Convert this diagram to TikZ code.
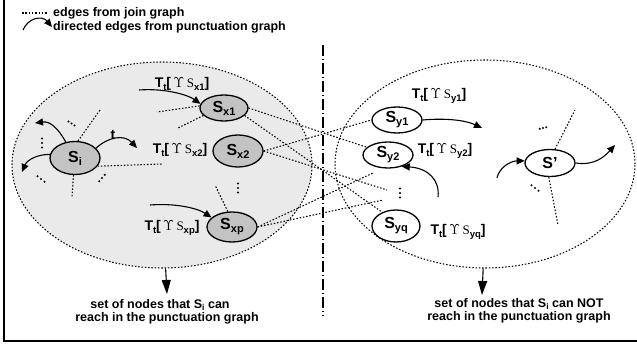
\documentclass[tikz,border=0pt]{standalone}
\usepackage[no-math]{fontspec}
\setmainfont{Liberation Sans}
\newfontfamily\serif{Liberation Serif}
\usetikzlibrary{arrows.meta,shapes.geometric}
\definecolor{nodegrey}{RGB}{195,195,195}
\definecolor{regiongrey}{RGB}{234,234,234}
\newcommand\nsub[1]{\raisebox{-3pt}{\fontsize{11}{11}\selectfont #1}}
\newcommand\tsub[1]{\raisebox{-2.5pt}{\fontsize{9.5}{9.5}\selectfont #1}}
\newcommand\ssub[1]{\raisebox{-2pt}{\fontsize{8.5}{8.5}\selectfont #1}}
\newcommand\Tl[1]{T\tsub{t}[\,$\Upsilon$\,{\serif\mdseries\fontsize{13}{13}\selectfont S}\tsub{#1}]}
% three dots centred at (#1,#2), step (#3,#4)
\newcommand\dotrow[4]{\fill ({#1-#3},{#2-#4}) circle (1.15pt) (#1,#2) circle (1.15pt) ({#1+#3},{#2+#4}) circle (1.15pt);}
\tikzset{
 jedge/.style={line width=1.05pt, dash pattern=on 1.5pt off 1.8pt},
 pedge/.style={line width=1.1pt, -{Triangle[length=8pt,width=7pt]}},
 dnarrow/.style={line width=1.1pt, -{Triangle[length=14pt,width=9pt]}},
 gnode/.style={ellipse, draw, line width=1.3pt, fill=nodegrey, inner sep=0pt, font=\fontsize{16}{16}\selectfont\bfseries},
 wnode/.style={gnode, fill=white},
 region/.style={ellipse, draw, line width=1.05pt, dash pattern=on 1.5pt off 1.8pt, inner sep=0pt},
 lab/.style={font=\fontsize{14}{14}\selectfont\bfseries, inner sep=0pt},
 txt/.style={font=\fontsize{12.5}{12.5}\selectfont\bfseries, inner sep=0pt},
}
\begin{document}
\begin{tikzpicture}[x=1pt,y=-1pt]
\useasboundingbox (0,0) rectangle (637,345);
% frame
\coordinate (f1) at (4,0); \coordinate (f2) at (4,341); \coordinate (f3) at (637,341);
\draw[line width=1.6pt] (f1) -- (f2) -- (f3);
% regions
\node[region, fill=regiongrey, minimum width=300pt, minimum height=206pt] (L) at (162,165) {};
\node[region, minimum width=300pt, minimum height=208pt] (R) at (485,164) {};
% divider
\coordinate (d1) at (323,45); \coordinate (d2) at (323,316);
\draw[line width=1.1pt, dash pattern=on 11pt off 3pt on 1pt off 3pt] (d1) -- (d2);
% legend
\coordinate (lj1) at (22,13); \coordinate (lj2) at (48,13);
\draw[jedge] (lj1) -- (lj2);
\node[txt, anchor=west] (lg1) at (53,13) {edges from join graph};
\coordinate (la1) at (23,30); \coordinate (la2) at (52,27);
\draw[pedge] (la1) .. controls (28,18) and (42,15) .. (la2);
\node[txt, anchor=west] (lg2) at (53,27) {directed edges from punctuation graph};
% nodes
\node[gnode, minimum width=50pt, minimum height=33pt] (Si) at (75,158) {S\nsub{i}};
\node[gnode, minimum width=48pt, minimum height=26pt] (Sx1) at (224,108) {S\nsub{x1}};
\node[gnode, minimum width=50pt, minimum height=32pt] (Sx2) at (238,151) {S\nsub{x2}};
\node[gnode, minimum width=50pt, minimum height=30pt] (Sxp) at (232,227) {S\nsub{xp}};
\node[wnode, minimum width=50pt, minimum height=26pt] (Sy1) at (397,120) {S\nsub{y1}};
\node[wnode, minimum width=50pt, minimum height=26pt] (Sy2) at (388,155) {S\nsub{y2}};
\node[wnode, minimum width=48pt, minimum height=32pt] (Syq) at (396,226) {S\nsub{yq}};
\node[wnode, minimum width=50pt, minimum height=27pt] (Sp) at (550,163) {S’};
% join graph edges
\coordinate (e1) at (387,190); \coordinate (e2) at (373,173); \coordinate (e3) at (383,200);
\draw[jedge] (Sx1.east) -- (Sy2.160);
\draw[jedge] (Sx1.-20) -- (Syq.135);
\draw[jedge] (Sx2.east) -- (Sy1.west);
\draw[jedge] (Sx2.east) -- (e1);
\draw[jedge] (Sxp.east) -- (e2);
\draw[jedge] (Sxp.east) -- (e3);
\coordinate (t1) at (100,110); \coordinate (t2) at (162,164); \coordinate (t3) at (72,197);
\coordinate (t4) at (157,112); \coordinate (t5) at (178,128); \coordinate (t6) at (215,185);
\coordinate (t7) at (575,110); \coordinate (t8) at (558,225);
\draw[jedge] (Si.80) -- (t1);
\draw[jedge] (Si.-20) -- (t2);
\draw[jedge] (Si.-95) -- (t3);
\draw[jedge] (Sx1.175) -- (t4);
\draw[jedge] (Sx1.200) -- (t5);
\draw[jedge] (Sxp.105) -- (t6);
\draw[jedge] (Sp.70) -- (t7);
\draw[jedge] (Sp.-95) -- (t8);
% elided nodes (dots)
\dotrow{42}{143}{0}{4.5}
\dotrow{238}{188}{0}{4.5}
\dotrow{400}{193}{0}{4.5}
\dotrow{71.5}{123.5}{3}{2}
\dotrow{41}{179}{3.5}{2.8}
\dotrow{102}{178}{2.8}{-3.2}
\dotrow{535}{188}{3.5}{2.8}
\dotrow{543}{128}{3.2}{-0.8}
% punctuation graph edges
\coordinate (a1) at (139,90); \coordinate (a2) at (150,205);
\coordinate (a3) at (35,123); \coordinate (a4) at (22,172); \coordinate (a5) at (137,148);
\coordinate (a6) at (482,128); \coordinate (a7) at (438,197); \coordinate (a8) at (497,178);
\coordinate (a9) at (615,145);
\draw[pedge] (a1) .. controls (165,88) and (188,95) .. (Sx1.170);
\draw[pedge] (a2) .. controls (175,203) and (197,208) .. (Sxp.155);
\draw[pedge] (Si.120) .. controls (58,128) and (50,121) .. (a3);
\draw[pedge] (Si.172) .. controls (38,154) and (27,160) .. (a4);
\draw[pedge] (Si.25) .. controls (108,137) and (124,134) .. (a5);
\draw[pedge] (Sy1.east) .. controls (445,118) and (465,120) .. (a6);
\draw[pedge] (a7) .. controls (440,180) and (428,168) .. (Sy2.-40);
\draw[pedge] (a8) .. controls (499,168) and (510,161) .. (Sp.175);
\draw[pedge] (Sp.east) .. controls (595,166) and (605,156) .. (a9);
% labels
\node[lab] (lt) at (113,135) {t};
\node[lab] (l1) at (182,84) {\Tl{x1}};
\node[lab] (l2) at (180,150) {\Tl{x2}};
\node[lab] (l3) at (172,228) {\Tl{xp}};
\node[lab] (l4) at (439,96) {\Tl{y1}};
\node[lab] (l5) at (445,151) {\Tl{y2}};
\node[lab] (l6) at (458,232) {\Tl{yq}};
% down arrows and captions
\coordinate (a10) at (167,294); \coordinate (a11) at (482,295);
\draw[dnarrow] (L.-88) -- (a10);
\draw[dnarrow] (R.-91) -- (a11);
\node[txt] (b1) at (160,305) {set of nodes that S\ssub{i} can};
\node[txt] (b2) at (167,318) {reach in the punctuation graph};
\node[txt] (b3) at (519,304) {set of nodes that S\ssub{i} can NOT};
\node[txt] (b4) at (519,317) {reach in the punctuation graph};
\end{tikzpicture}
\end{document}
